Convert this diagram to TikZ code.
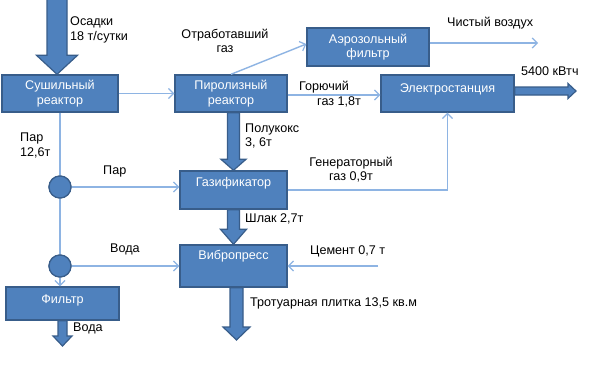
\documentclass[tikz,border=0pt]{standalone}
\usepackage{fontspec}
\setmainfont{Liberation Sans}
\usetikzlibrary{arrows.meta,calc}
\definecolor{boxfill}{HTML}{4F81BD}
\definecolor{boxline}{HTML}{385D8A}
\definecolor{thinline}{HTML}{8EB4E3}
\newcommand\fs{\fontsize{12.6}{14.5}\selectfont}
\newcommand\blkdown[5]{\path[blk] let \p1=(#1), \p2=(#2) in
  (\x1-#3,\y1) -- (\x1-#3,\y2+#5) -- (\x1-#4,\y2+#5) -- (\x1,\y2) --
  (\x1+#4,\y2+#5) -- (\x1+#3,\y2+#5) -- (\x1+#3,\y1) -- cycle;}
\newcommand\blkright[5]{\path[blk] let \p1=(#1), \p2=(#2) in
  (\x1,\y1-#3) -- (\x2-#5,\y1-#3) -- (\x2-#5,\y1-#4) -- (\x2,\y1) --
  (\x2-#5,\y1+#4) -- (\x2-#5,\y1+#3) -- (\x1,\y1+#3) -- cycle;}
\begin{document}
\begin{tikzpicture}[x=1pt,y=-1pt,
  box/.style={draw=boxline, line width=1.4pt, fill=boxfill, text=white, align=center, inner sep=0pt, font=\fs},
  lbl/.style={inner sep=0pt, font=\fs, text=black, anchor=west, align=left},
  clbl/.style={inner sep=0pt, font=\fs, text=black, align=center},
  flow/.style={draw=thinline, line width=1.4pt, -{Straight Barb[length=5pt,width=10pt,line width=1.2pt]}},
  plain/.style={draw=thinline, line width=1.4pt},
  blk/.style={fill=boxfill, draw=boxline, line width=1.2pt, line join=miter},
  dot/.style={circle, fill=boxfill, draw=boxline, line width=1.2pt, minimum size=22pt, inner sep=0pt}]
\useasboundingbox[fill=white] (0,0) rectangle (603,365);

% boxes
\node[box, minimum width=116pt, minimum height=37pt] (dry) at (60,93.5) {Сушильный\\реактор};
\node[box, minimum width=112pt, minimum height=37pt] (pyro) at (231,93.5) {Пиролизный\\реактор};
\node[box, minimum width=122pt, minimum height=38pt] (aero) at (368,47) {Аэрозольный\\фильтр};
\node[box, minimum width=133pt, minimum height=37pt, text height=9pt, text depth=11pt] (elec) at (447.5,93.5) {Электростанция};
\node[box, minimum width=107pt, minimum height=38pt, text height=9pt, text depth=16pt] (gas) at (233.5,190) {Газификатор};
\node[box, minimum width=107pt, minimum height=42pt, text height=9pt, text depth=22pt] (vib) at (233.5,266) {Вибропресс};
\node[box, minimum width=113pt, minimum height=33pt, text height=5pt, text depth=5pt] (filt) at (62.5,303.5) {Фильтр};

% junction dots
\node[dot] (c1) at (60,187) {};
\node[dot] (c2) at (60,266) {};

% free ends
\coordinate (in0) at (57,-3);
\coordinate (air) at (538,43);
\coordinate (out1) at (236.5,340);
\coordinate (out2) at (62.5,346);
\coordinate (out3) at (576,91);
\coordinate (cem) at (378,266);

% thin connectors
\draw[flow] (dry) -- (pyro);
\draw[flow] (pyro.north) -- ([yshift=3pt]aero.west);
\draw[flow] ([yshift=4pt]aero.east) -- (air);
\draw[flow] ([yshift=-1.5pt]pyro.east) -- ([yshift=-1.5pt]elec.west);
\draw[flow] (gas.east) -| (elec.south);
\draw[plain] (dry.south -| c1) -- (c1);
\draw[plain] (c1) -- (c2);
\draw[flow] (c2) -- (c2 |- filt.north);
\draw[flow] (c1) -- (c1 -| gas.west);
\draw[flow] (c2) -- (vib.west);
\draw[flow] (cem) -- (vib.east);
\node[dot] at (c1) {};
\node[dot] at (c2) {};

% block arrows
\blkdown{in0}{in0 |- dry.north}{10pt}{20.5pt}{19pt}
\blkdown{pyro.south -| gas.north}{gas.north}{6pt}{12.5pt}{11pt}
\blkdown{gas.south}{vib.north}{6pt}{13pt}{15pt}
\blkdown{vib.south -| out1}{out1}{6.5pt}{13.5pt}{13pt}
\blkdown{filt.south}{out2}{4.5pt}{9.5pt}{10pt}
\blkright{elec.east |- out3}{out3}{4pt}{7.5pt}{8pt}

% labels
\node[lbl] (l1) at (70,30) {Осадки\\18 т/сутки};
\node[clbl] (l2) at (225,41) {Отработавший\\газ};
\node[lbl] (l3) at (447,23) {Чистый воздух};
\node[lbl] (l4) at (521,71) {5400 кВтч};
\node[lbl] (l5) at (299,87) {Горючий};
\node[lbl] (l6) at (317,102) {газ 1,8т};
\node[lbl] (l7) at (245,136) {Полукокс\\3, 6т};
\node[lbl] (l8) at (20,145.5) {Пар\\12,6т};
\node[lbl] (l9) at (103,171) {Пар};
\node[clbl] (l10) at (351,169.5) {Генераторный\\газ 0,9т};
\node[lbl] (l11) at (245,219) {Шлак 2,7т};
\node[lbl] (l12) at (110,249) {Вода};
\node[lbl] (l13) at (310,251) {Цемент 0,7 т};
\node[lbl] (l14) at (250,303) {Тротуарная плитка 13,5 кв.м};
\node[lbl] (l15) at (73,328) {Вода};
\end{tikzpicture}
\end{document}
